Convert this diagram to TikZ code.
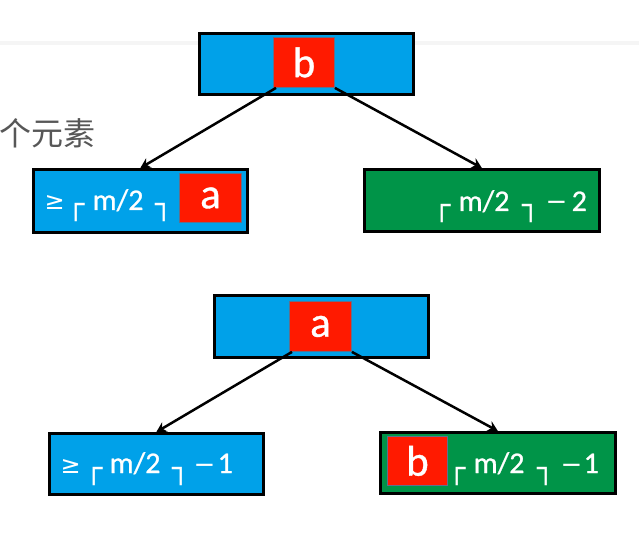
\documentclass[tikz,border=0pt]{standalone}
\usepackage{fontspec}
\setmainfont{Carlito}
\newfontfamily\countfont[FakeBold=0.8]{Carlito}
\newfontfamily\djv{DejaVu Sans}
\newfontfamily\cjk{Noto Sans CJK SC}
\usetikzlibrary{arrows.meta}

\definecolor{boxblue}{RGB}{0,161,233}
\definecolor{boxgreen}{RGB}{0,148,72}
\definecolor{keyred}{RGB}{255,26,0}
\definecolor{keyedge}{RGB}{96,112,140}

% ceiling brackets, relation and minus signs
\newcommand{\ceilL}{\raisebox{-5pt}{\fontsize{29}{29}\djv ┌}}
\newcommand{\ceilR}{\raisebox{-5pt}{\fontsize{29}{29}\djv ┐}}
\newcommand{\gesym}{{\fontsize{24}{24}\djv ≥}}
\newcommand{\minussym}{{\fontsize{26}{26}\djv −}}
% place a piece of a label at a fixed offset from the label's start
\newcommand{\putat}[2]{\makebox[0pt][l]{\hspace{#1pt}#2}}

\tikzset{
  outerbox/.style={draw=black, line width=2.7pt, inner sep=0pt, anchor=north west},
  bluebox/.style={outerbox, fill=boxblue},
  greenbox/.style={outerbox, fill=boxgreen},
  keybox/.style={draw=keyedge, line width=0.9pt, fill=keyred, inner sep=0pt,
    anchor=north west, text=white, font=\fontsize{43}{43}\countfont},
  count/.style={anchor=base west, inner sep=0pt, text=white,
    font=\fontsize{30}{30}\countfont},
  link/.style={line width=2.5pt, -{Stealth[length=10pt,width=11pt]}}
}

\begin{document}
\begin{tikzpicture}[x=1pt,y=-1pt]
\useasboundingbox (0,0) rectangle (639,537);
\fill[white] (0,0) rectangle (639,537);
\fill[black!4] (0,41) rectangle (639,45);

\node[anchor=base east, inner sep=0pt, text=black!66,
  font=\fontsize{32}{32}\cjk] (frag) at (96,146) {个元素};

% ---------- upper tree ----------
\node[bluebox, minimum width=214pt, minimum height=61pt] (r1) at (198,32) {};
\node[keybox, minimum width=61pt, minimum height=50pt] (k1) at (273,37) {b};

\node[bluebox, minimum width=214pt, minimum height=63pt] (c1) at (32,168) {};
\node[keybox, minimum width=62pt, minimum height=49pt] (k2) at (179,173) {a};
\node[count] (t1) at (44,210)
  {\putat{0}{\gesym}\putat{23}{\ceilL}\putat{48}{m/2}\putat{111}{\ceilR}};

\node[greenbox, minimum width=235pt, minimum height=62pt] (c2) at (363,168) {};
\node[count] (t2) at (433,211)
  {\putat{0}{\ceilL}\putat{25}{m/2}\putat{89}{\ceilR}\putat{112}{\minussym}\putat{138}{2}};

\draw[link] ([xshift=3pt]k1.south west) -- (c1.north);
\draw[link] (k1.south east) -- (c2.north);

% ---------- lower tree ----------
\node[bluebox, minimum width=214pt, minimum height=62pt] (r2) at (213,294) {};
\node[keybox, minimum width=62pt, minimum height=50pt] (k3) at (289,301) {a};

\node[bluebox, minimum width=214pt, minimum height=61pt] (c3) at (48,432) {};
\node[count] (t3) at (60,473)
  {\putat{0}{\gesym}\putat{25}{\ceilL}\putat{49}{m/2}\putat{112}{\ceilR}\putat{133}{\minussym}\putat{157}{1}};

\node[greenbox, minimum width=235pt, minimum height=61pt] (c4) at (379,431) {};
\node[keybox, minimum width=60pt, minimum height=49pt] (k4) at (387,436) {b};
\node[count] (t4) at (448,473)
  {\putat{0}{\ceilL}\putat{25}{m/2}\putat{89}{\ceilR}\putat{112}{\minussym}\putat{135}{1}};

\draw[link] ([xshift=3pt]k3.south west) -- (c3.north);
\draw[link] (k3.south east) -- (c4.north);
\end{tikzpicture}
\end{document}
